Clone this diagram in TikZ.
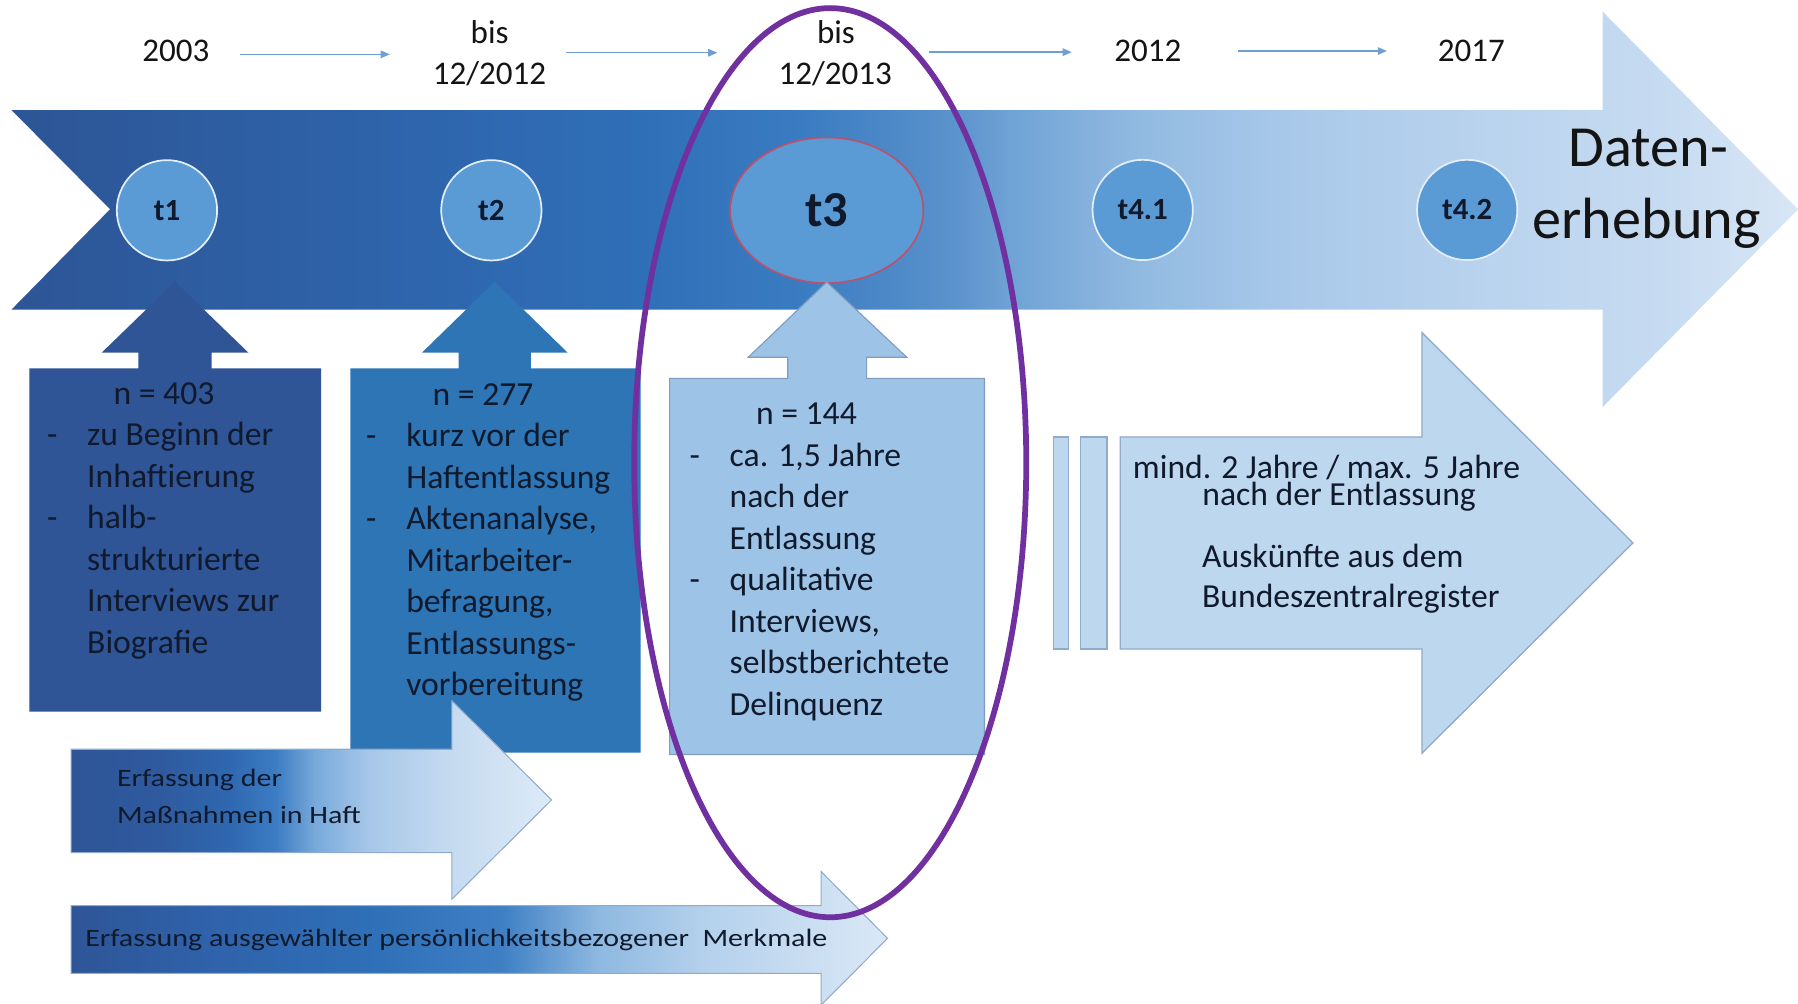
\documentclass[tikz,border=0pt]{standalone}
\usepackage{fontspec}
\setmainfont{Carlito}
\newfontfamily\widefont[FakeStretch=1.2]{Carlito}
\usetikzlibrary{arrows.meta,shapes.geometric}

% palette
\definecolor{ink}{HTML}{101A2C}
\definecolor{tfill}{HTML}{5B9BD5}
\definecolor{tring}{HTML}{E4EEF9}
\definecolor{tthree}{HTML}{B8536E}
\definecolor{boxA}{HTML}{2F5597}
\definecolor{boxB}{HTML}{2E75B6}
\definecolor{boxC}{HTML}{9DC3E6}
\definecolor{boxCline}{HTML}{7F9DC2}
\definecolor{lightfill}{HTML}{BDD7EE}
\definecolor{lightline}{HTML}{8FAACB}
\definecolor{arrowline}{HTML}{6E9FD0}
\definecolor{ringpurple}{HTML}{7030A0}

\definecolor{bandA}{HTML}{2D5596}
\definecolor{bandB}{HTML}{2E62A8}
\definecolor{bandC}{HTML}{2F6FB8}
\definecolor{bandD}{HTML}{3A7CC2}
\definecolor{bandE}{HTML}{5A92CC}
\definecolor{bandF}{HTML}{6FA2D5}
\definecolor{bandG}{HTML}{93BBE2}
\definecolor{bandH}{HTML}{A9C9EA}
\definecolor{bandI}{HTML}{BAD3EE}
\definecolor{bandJ}{HTML}{C6DBF1}
\definecolor{bandK}{HTML}{D8E6F5}

\definecolor{mA}{HTML}{2E5597}
\definecolor{mB}{HTML}{2F5A9F}
\definecolor{mC}{HTML}{2F68B0}
\definecolor{mD}{HTML}{3C7CC3}
\definecolor{mE}{HTML}{79AADB}
\definecolor{mF}{HTML}{A6C7E9}
\definecolor{mG}{HTML}{C4DAF0}
\definecolor{mH}{HTML}{DDEAF7}

\definecolor{pA}{HTML}{2E5597}
\definecolor{pB}{HTML}{2F62AA}
\definecolor{pC}{HTML}{2F70B8}
\definecolor{pD}{HTML}{3F80C5}
\definecolor{pE}{HTML}{8DB8E0}
\definecolor{pF}{HTML}{B3D0EC}
\definecolor{pG}{HTML}{DAE8F6}

% shadings: the 25bp..75bp range spans the filled path
\pgfdeclarehorizontalshading{bandshade}{100bp}{color(0bp)=(bandA); color(25bp)=(bandA); color(34.31bp)=(bandB); color(42.65bp)=(bandC); color(47.14bp)=(bandD); color(51.32bp)=(bandE); color(52.92bp)=(bandF); color(56.77bp)=(bandG); color(60.94bp)=(bandH); color(66.40bp)=(bandI); color(71.21bp)=(bandJ); color(75bp)=(bandK); color(100bp)=(bandK)}
\pgfdeclarehorizontalshading{haftshade}{100bp}{color(0bp)=(mA); color(25bp)=(mA); color(34.33bp)=(mB); color(41.5bp)=(mC); color(46.3bp)=(mD); color(50.5bp)=(mE); color(55.9bp)=(mF); color(64.2bp)=(mG); color(75bp)=(mH); color(100bp)=(mH)}
\pgfdeclarehorizontalshading{merkshade}{100bp}{color(0bp)=(pA); color(25bp)=(pA); color(33.3bp)=(pB); color(43.8bp)=(pC); color(51.5bp)=(pD); color(57.2bp)=(pE); color(63.5bp)=(pF); color(75bp)=(pG); color(100bp)=(pG)}

% list helpers for the sample boxes
\newcommand{\bxdash}{\makebox[0.70cm][l]{-}}
\newcommand{\bxgap}{\hspace*{0.70cm}}
\newcommand{\bxhead}{\hspace*{1.16cm}}

\tikzset{
  tdot/.style={circle, fill=tfill, draw=tring, line width=0.03cm,
    minimum size=1.75cm, inner sep=0pt, text=ink,
    font=\bfseries\fontsize{15.3}{18}\selectfont},
  tbig/.style={ellipse, fill=tfill, draw=tthree, line width=0.03cm,
    minimum width=3.37cm, minimum height=2.54cm, inner sep=0pt, text=ink,
    font=\bfseries\fontsize{25}{30}\selectfont},
  boxtxt/.style={anchor=base west, inner sep=0pt, text=ink,
    font=\fontsize{16.7}{20.6}\selectfont},
  plaintxt/.style={inner sep=0pt, text=ink,
    font=\fontsize{16.7}{20.6}\selectfont},
  toplbl/.style={anchor=base, inner sep=0pt, text=black!92,
    font=\fontsize{16.4}{20}\selectfont},
  widetxt/.style={anchor=base west, inner sep=0pt, text=ink,
    font=\widefont\fontsize{12.4}{18}\selectfont},
  bigtxt/.style={anchor=base, inner sep=0pt, text=black!92,
    font=\fontsize{28.9}{35}\selectfont},
  tline/.style={draw=arrowline, line width=0.025cm,
    -{Triangle[length=0.16cm,width=0.13cm]}},
  lightshape/.style={fill=lightfill, draw=lightline, line width=0.022cm},
  thinedge/.style={draw=lightline, line width=0.018cm}
}

\begin{document}
\begin{tikzpicture}[x=0.02cm, y=-0.02cm]
\useasboundingbox (0,0) rectangle (1568,875);
\fill[white] (0,0) rectangle (1568,875);

% main time band with notched tail and arrow head
\shade[shading=bandshade] (10,96) -- (1397.5,96) -- (1397.5,10) -- (1568,182.5)
  -- (1397.5,355) -- (1397.5,270) -- (10,270) -- (96,182.5) -- cycle;

% measurement points
\node[tdot] (t1) at (145.6,183.4) {t1};
\node[tdot] (t2) at (428.5,183.4) {t2};
\node[tbig] (t3) at (721,183.4) {t3};
\node[tdot] (t41) at (996.5,183.1) {t4.1};
\node[tdot] (t42) at (1279.5,183.1) {t4.2};

% sample boxes with pointers up to the band
\fill[boxA] (25.6,620.6) -- (25.6,321.2) -- (120.6,321.2) -- (120.6,307.5)
  -- (88.7,307.5) -- (152.6,245.6) -- (216.6,307.5) -- (184.6,307.5)
  -- (184.6,321.2) -- (280,321.2) -- (280,620.6) -- cycle;
\fill[boxB] (305.5,656.3) -- (305.5,321.2) -- (400,321.2) -- (400,307.5)
  -- (368,307.5) -- (431.5,245.6) -- (495,307.5) -- (463,307.5)
  -- (463,321.2) -- (558.7,321.2) -- (558.7,656.3) -- cycle;
\filldraw[fill=boxC, draw=boxCline, line width=0.02cm]
  (584,658) -- (584,330) -- (687,330) -- (687,311.5)
  -- (652.6,311.5) -- (721,246) -- (790.7,311.5) -- (755.8,311.5)
  -- (755.8,330) -- (858.5,330) -- (858.5,658) -- cycle;

\node[boxtxt] (b1text) at (40.7,352.5) {\parbox[t]{5cm}{\bxhead n = 403\\
  \bxdash zu Beginn der\\ \bxgap Inhaftierung\\ \bxdash halb-\\
  \bxgap strukturierte\\ \bxgap Interviews zur\\ \bxgap Biografie}};
\node[boxtxt] (b2text) at (319,353.5) {\parbox[t]{5cm}{\bxhead n = 277\\
  \bxdash kurz vor der\\ \bxgap Haftentlassung\\ \bxdash Aktenanalyse,\\
  \bxgap Mitarbeiter-\\ \bxgap befragung,\\ \bxgap Entlassungs-\\
  \bxgap vorbereitung}};
\node[boxtxt] (b3text) at (601,370.5) {\parbox[t]{5cm}{\bxhead n = 144\\
  \bxdash ca. 1,5 Jahre\\ \bxgap nach der\\ \bxgap Entlassung\\
  \bxdash qualitative\\ \bxgap Interviews,\\ \bxgap selbstberichtete\\
  \bxgap Delinquenz}};

% follow-up arrow (register data)
\filldraw[lightshape] (918.7,381) rectangle (932,566);
\filldraw[lightshape] (942.2,381) rectangle (965.3,566);
\filldraw[lightshape] (977,381) -- (1240,381) -- (1240,290) -- (1424,473.5)
  -- (1240,657) -- (1240,566) -- (977,566) -- cycle;
\node[plaintxt, anchor=base] (r1) at (1156.8,417)
  {\parbox[t]{8cm}{\centering\baselineskip=13.6pt mind. 2 Jahre / max. 5 Jahre\\
   \hspace*{0.44cm}nach der Entlassung}};
\node[plaintxt, anchor=base west] (r3) at (1048,495) {Auskünfte aus dem};
\node[plaintxt, anchor=base west] (r4) at (1048,530) {Bundeszentralregister};

% continuous records during and after custody
\shade[shading=haftshade, thinedge] (62,653.4) -- (394,653.4) -- (394,611)
  -- (481,697.6) -- (394,784.2) -- (394,743.5) -- (62,743.5) -- cycle;
\node[widetxt] (h1) at (101.7,686) {Erfassung der};
\node[widetxt] (h2) at (101.7,718) {Maßnahmen in Haft};

\shade[shading=merkshade, thinedge] (62,789.8) -- (716,789.8) -- (716,760)
  -- (774,818.3) -- (716,876.6) -- (716,848.8) -- (62,848.8) -- cycle;
\node[widetxt] (m1) at (74,825) {Erfassung ausgewählter persönlichkeitsbezogener\ \ Merkmale};

% dates along the top
\node[toplbl] (d1) at (153.3,53.8) {2003};
\node[toplbl] (d2a) at (427,37.8) {bis};
\node[toplbl] (d2b) at (426.8,74.1) {12/2012};
\node[toplbl] (d3a) at (729,37.8) {bis};
\node[toplbl] (d3b) at (728.3,74.1) {12/2013};
\node[toplbl] (d4) at (1001,53.8) {2012};
\node[toplbl] (d5) at (1283.2,53.8) {2017};

\coordinate (a1s) at (209,47.4);   \coordinate (a1e) at (340,47.4);
\coordinate (a2s) at (494,46);     \coordinate (a2e) at (625.6,46);
\coordinate (a3s) at (810,45.5);   \coordinate (a3e) at (934.7,45.5);
\coordinate (a4s) at (1079.6,44.5); \coordinate (a4e) at (1209.5,44.5);
\draw[tline] (a1s) -- (a1e);
\draw[tline] (a2s) -- (a2e);
\draw[tline] (a3s) -- (a3e);
\draw[tline] (a4s) -- (a4e);

% caption inside the arrow head
\node[bigtxt] (dat1) at (1437.4,145.3) {Daten-};
\node[bigtxt] (dat2) at (1436,207.8) {erhebung};

% highlight around the third wave
\draw[ringpurple, line width=0.1cm] (724,403.5) ellipse [x radius=3.42cm, y radius=7.93cm];
\end{tikzpicture}
\end{document}
